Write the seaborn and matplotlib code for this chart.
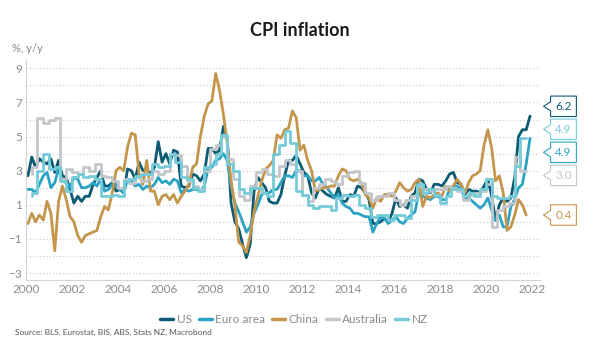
import numpy as np
import pandas as pd
import matplotlib
matplotlib.use('Agg')
import matplotlib.pyplot as plt
import seaborn as sns
from matplotlib.path import Path
from matplotlib.ticker import FixedLocator

# bimonthly readings (Jan, Mar, May, Jul, Sep, Nov), month-end dates
us = [2.7, 3.8, 3.2, 3.7, 3.5, 3.4,
      3.7, 2.9, 3.6, 2.7, 2.6, 1.9,
      1.1, 1.5, 1.2, 1.5, 1.5, 2.2,
      2.6, 3.0, 2.1, 2.1, 2.3, 1.8,
      1.9, 1.7, 3.1, 3.0, 2.5, 3.5,
      3.0, 3.1, 2.8, 3.2, 4.7, 3.5,
      4.0, 3.4, 4.2, 4.1, 2.1, 2.0,
      2.1, 2.8, 2.7, 2.4, 2.8, 4.3,
      4.3, 4.0, 4.2, 5.6, 4.9, 1.1,
      0.0, -0.4, -1.3, -2.1, -1.3, 1.8,
      2.6, 2.3, 2.0, 1.2, 1.1, 1.1,
      1.6, 2.7, 3.6, 3.6, 3.9, 3.4,
      2.9, 2.7, 1.7, 1.4, 2.0, 1.8,
      1.6, 1.5, 1.4, 2.0, 1.2, 1.2,
      1.6, 1.5, 2.1, 2.0, 1.7, 1.3,
      -0.1, -0.1, 0.0, 0.2, 0.0, 0.5,
      1.4, 0.9, 1.0, 0.8, 1.5, 1.7,
      2.5, 2.4, 1.9, 1.7, 2.2, 2.2,
      2.1, 2.4, 2.8, 2.9, 2.3, 2.2,
      1.6, 1.9, 1.8, 1.8, 1.7, 2.1,
      2.5, 1.5, 0.1, 1.0, 1.4, 1.2,
      1.4, 2.6, 5.0, 5.4, 5.4, 6.2]

euro = [1.9, 1.9, 1.7, 2.2, 2.7, 2.9,
        2.0, 2.3, 3.1, 2.4, 2.3, 2.0,
        2.6, 2.5, 2.0, 2.0, 2.1, 2.3,
        2.1, 2.5, 1.8, 1.9, 2.2, 2.2,
        1.9, 1.7, 2.5, 2.4, 2.1, 2.2,
        1.9, 2.1, 2.0, 2.2, 2.6, 2.3,
        2.4, 2.2, 2.5, 2.4, 1.7, 1.9,
        1.8, 1.9, 1.9, 1.8, 2.1, 3.1,
        3.2, 3.6, 3.7, 4.0, 3.6, 2.1,
        1.1, 0.6, 0.0, -0.6, -0.3, 0.5,
        1.0, 1.6, 1.7, 1.7, 1.9, 1.9,
        2.3, 2.7, 2.7, 2.6, 3.0, 3.0,
        2.7, 2.7, 2.4, 2.4, 2.6, 2.2,
        2.0, 1.7, 1.4, 1.6, 1.1, 0.9,
        0.8, 0.5, 0.5, 0.4, 0.3, 0.3,
        -0.6, -0.1, 0.3, 0.2, -0.1, 0.1,
        0.3, 0.0, -0.1, 0.2, 0.4, 0.6,
        1.7, 1.5, 1.4, 1.3, 1.5, 1.5,
        1.3, 1.3, 1.9, 2.1, 2.1, 1.9,
        1.4, 1.4, 1.2, 1.0, 0.8, 1.0,
        1.4, 0.7, 0.1, 0.4, -0.3, -0.3,
        0.9, 1.3, 2.0, 2.2, 3.4, 4.9]

china = [-0.1, 0.5, 0.0, 0.4, 0.1, 1.2,
         0.5, -1.7, 1.2, 2.1, 1.3, 0.3,
         0.0, -0.8, -1.2, -0.8, -0.7, -0.6,
         -0.5, 0.3, 0.9, 0.7, 1.7, 3.0,
         3.2, 3.0, 4.4, 5.2, 5.1, 2.8,
         2.2, 3.6, 1.8, 1.8, 1.0, 1.5,
         1.6, 1.3, 1.6, 1.1, 1.5, 1.8,
         2.2, 3.2, 3.4, 5.0, 6.2, 6.9,
         7.1, 8.7, 7.7, 6.3, 4.6, 2.4,
         1.0, -1.2, -1.4, -1.8, -0.8, 0.6,
         1.5, 2.4, 3.1, 3.3, 3.6, 5.1,
         4.9, 5.4, 5.5, 6.5, 6.1, 4.2,
         4.5, 3.6, 3.0, 1.8, 1.9, 2.0,
         2.0, 2.1, 2.1, 2.7, 3.1, 3.0,
         2.5, 2.4, 2.5, 2.3, 1.6, 1.4,
         0.8, 1.4, 1.2, 1.6, 1.6, 1.5,
         1.8, 2.3, 2.0, 1.8, 1.9, 2.3,
         2.5, 0.9, 1.5, 1.4, 1.6, 1.7,
         1.5, 2.1, 1.8, 2.1, 2.5, 2.2,
         1.7, 2.3, 2.7, 2.8, 3.0, 4.5,
         5.4, 4.3, 2.4, 2.7, 1.7, -0.5,
         -0.3, 0.4, 1.3, 1.0, 0.4]

# quarterly readings
australia = [2.8, 3.2, 6.1, 5.8,
             6.0, 6.1, 2.5, 3.1,
             2.9, 2.8, 3.2, 3.0,
             3.4, 2.7, 2.6, 2.4,
             2.0, 2.5, 2.3, 2.6,
             2.4, 2.5, 3.0, 2.8,
             3.0, 4.0, 3.9, 3.3,
             2.4, 2.1, 1.9, 3.0,
             4.3, 4.5, 5.0, 3.7,
             2.5, 1.5, 1.3, 2.1,
             2.9, 3.1, 2.8, 2.7,
             3.3, 3.6, 3.4, 3.0,
             1.6, 1.2, 2.0, 2.2,
             2.5, 2.4, 2.2, 2.7,
             2.9, 3.0, 2.3, 1.7,
             1.3, 1.5, 1.5, 1.7,
             1.3, 1.0, 1.3, 1.5,
             2.1, 1.9, 1.8, 1.9,
             1.9, 2.1, 1.9, 1.8,
             1.3, 1.6, 1.7, 1.8,
             2.2, -0.3, 0.7, 0.9,
             1.1, 3.8, 3.0]

nz = [1.5, 1.7, 3.0, 4.0,
      3.1, 3.2, 2.4, 1.8,
      2.6, 2.8, 2.6, 2.7,
      2.5, 1.5, 1.5, 1.6,
      1.5, 2.4, 2.5, 2.7,
      2.8, 2.8, 3.4, 3.2,
      3.3, 4.0, 3.5, 2.6,
      2.5, 2.0, 1.8, 3.2,
      3.4, 4.0, 5.1, 3.4,
      3.0, 1.9, 1.7, 2.0,
      2.0, 1.7, 1.5, 4.0,
      4.5, 5.3, 4.6, 1.8,
      1.6, 1.0, 0.8, 0.9,
      0.9, 0.7, 1.4, 1.6,
      1.5, 1.6, 1.0, 0.8,
      0.3, 0.4, 0.4, 0.1,
      0.4, 0.4, 0.2, 1.3,
      2.2, 1.7, 1.9, 1.6,
      1.1, 1.5, 1.9, 1.9,
      1.5, 1.7, 1.5, 1.9,
      2.5, 1.5, 1.4, 1.4,
      1.5, 3.3, 4.9]

bm_dates = [y + m / 12 for y in range(2000, 2022) for m in [1, 3, 5, 7, 9, 11]]
q_dates = [y + 3 * q / 12 for y in range(2000, 2022) for q in [1, 2, 3, 4]]

names = ['US', 'Euro area', 'China', 'Australia', 'NZ']
series = [us, euro, china, australia, nz]
dates = [bm_dates, bm_dates, bm_dates, q_dates, q_dates]
styles = ['default', 'default', 'default', 'steps-pre', 'steps-pre']
palette = ['#0c5a73', '#2ba3c4', '#c4964b', '#c3c6ca', '#75cbd7']

sns.set_theme(style='white')
plt.rcParams['font.family'] = ['Lato', 'DejaVu Sans']

fig = plt.figure(figsize=(6, 3.5), dpi=100)
ax = fig.add_axes([26 / 600, 0.2, 514 / 600, 0.6286])

for name, vals, d, ds, col in zip(names, series, dates, styles, palette):
    sns.lineplot(x=d[:len(vals)], y=vals, ax=ax, color=col, lw=2,
                 drawstyle=ds, label=name)

ax.set_xlim(2000, 2022.35)
ax.set_ylim(-3.41, 9.49)
ax.set_xticks(range(2000, 2023, 2))
ax.set_yticks(range(-3, 10, 2))
ax.yaxis.set_minor_locator(FixedLocator(range(-2, 9, 2)))
ax.grid(which='both', axis='y', linestyle=(0, (1, 2)), color='#c9c9c9', lw=0.8)
ax.grid(axis='x', visible=False)
ax.tick_params(axis='both', which='both', length=0, labelsize=8.5,
               labelcolor='#8a8a8a', pad=3)
for s in ['top', 'right']:
    ax.spines[s].set_visible(False)
for s in ['left', 'bottom']:
    ax.spines[s].set_color('#d4d4d4')
    ax.spines[s].set_linewidth(0.8)


# callout box with a small pointer on the left
def callout(x0, y0, width, height, mutation_size):
    pad = 0.4 * mutation_size
    x0, y0 = x0 - pad, y0 - pad
    w, h = width + 2 * pad, height + 2 * pad
    ym = y0 + h / 2
    t = 0.6 * mutation_size
    verts = [(x0, y0), (x0 + w, y0), (x0 + w, y0 + h), (x0, y0 + h),
             (x0, ym + 0.22 * h), (x0 - t, ym), (x0, ym - 0.22 * h), (x0, y0)]
    return Path(verts, closed=True)


last = [v[-1] for v in series]
order = sorted(range(len(last)), key=lambda i: (-last[i], -i))
pos = np.array([last[i] for i in order], float)
gap = 1.35
for _ in range(300):
    for i in range(len(pos) - 1):
        d = pos[i] - pos[i + 1]
        if d < gap:
            pos[i] += (gap - d) / 2
            pos[i + 1] -= (gap - d) / 2

trans = ax.get_yaxis_transform()
for k, i in enumerate(order):
    ax.annotate(f'{last[i]:.1f}', xy=(1, pos[k]), xycoords=trans,
                xytext=(11, 0), textcoords='offset points', ha='left',
                va='center', fontsize=8.5, color=palette[i],
                bbox=dict(boxstyle=callout, fc='white', ec=palette[i], lw=0.8),
                annotation_clip=False)

leg = ax.legend(loc='center', bbox_to_anchor=(0.49, 320 / 350 * 0 + 0.086),
                bbox_transform=fig.transFigure, ncol=5, frameon=False,
                fontsize=8.5, handlelength=1.1, handletextpad=0.3,
                columnspacing=0.6, labelcolor='#8a8a8a')
for line in leg.get_lines():
    line.set_linewidth(2.5)

fig.text(0.5, 0.914, 'CPI inflation', ha='center', va='center',
         fontsize=13, fontweight='bold', color='#1a1a1a')
fig.text(0.02, 0.862, '%, y/y', ha='left', va='center', fontsize=8,
         color='#8a8a8a')
fig.text(0.025, 0.051, 'Source: BLS, Eurostat, BIS, ABS, Stats NZ, Macrobond',
         ha='left', va='center', fontsize=6, color='#555555')

fig.savefig('out.png', dpi=100)
